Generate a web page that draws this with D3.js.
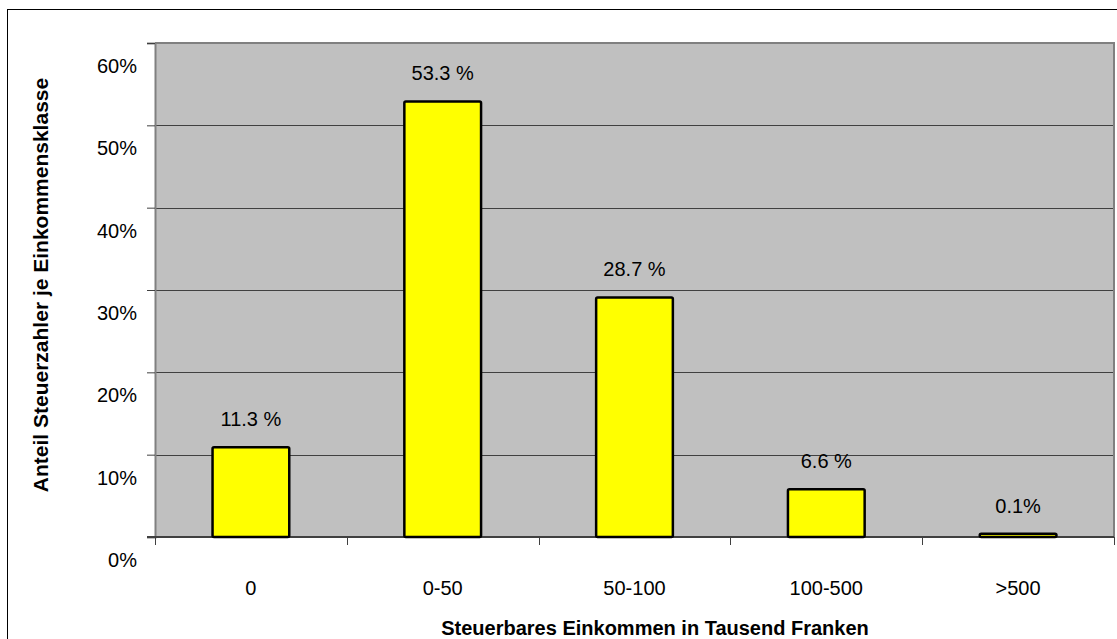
<!DOCTYPE html>
<html>
<head>
<meta charset="utf-8">
<script src="https://cdn.jsdelivr.net/npm/d3@7"></script>
<style>
  html, body { margin: 0; padding: 0; background: #fff; }
  svg { display: block; font-family: "Liberation Sans", Arial, sans-serif; }
</style>
</head>
<body>
<svg id="chart" width="1117" height="639"></svg>
<script>
const categories = ["0", "0-50", "50-100", "100-500", ">500"];
const values = [10.9, 52.9, 29.1, 5.8, 0.4];
const valueLabels = ["11.3 %", "53.3 %", "28.7 %", "6.6 %", "0.1%"];
const yTicks = [0, 10, 20, 30, 40, 50, 60];
const xTitle = "Steuerbares Einkommen in Tausend Franken";
const yTitle = "Anteil Steuerzahler je Einkommensklasse";

(function () {
const svg = d3.select("#chart");
const pL = 155, pR = 1114, pT = 43, pB = 537;

// outer chart frame
svg.append("rect").attr("x", 7.5).attr("y", 9.5).attr("width", 1200).attr("height", 700)
  .attr("fill", "#fff").attr("stroke", "#000").attr("stroke-width", 1);

const x = d3.scaleBand().domain(categories).range([pL, pR]).paddingInner(0.6).paddingOuter(0.3);
const y = d3.scaleLinear().domain([0, 60]).range([pB, pT]);

// plot area
svg.append("rect").attr("x", pL).attr("y", pT).attr("width", pR - pL).attr("height", pB - pT)
  .attr("fill", "#c0c0c0");

// gridlines
svg.append("g").selectAll("line").data(yTicks.filter(t => t > 0 && t < 60)).join("line")
  .attr("x1", pL).attr("x2", pR)
  .attr("y1", d => Math.round(y(d)) + 0.5).attr("y2", d => Math.round(y(d)) + 0.5)
  .attr("stroke", "#404040").attr("stroke-width", 1);

// plot border top & right
svg.append("path")
  .attr("d", `M${pL},${pT} H${pR} V${pB}`)
  .attr("fill", "none").attr("stroke", "#808080").attr("stroke-width", 2);

// y axis
const yAxis = d3.axisLeft(y).tickValues(yTicks).tickSize(8).tickFormat("");
const gy = svg.append("g").attr("transform", `translate(${pL},0)`).call(yAxis);
gy.select(".domain").attr("stroke", "#808080").attr("stroke-width", 2);
gy.selectAll(".tick line").attr("stroke", "#404040");

// y tick labels (offset below their gridlines, as in the reference)
svg.append("g").selectAll("text").data(yTicks).join("text")
  .attr("x", 137).attr("y", d => y(d) + 30)
  .attr("text-anchor", "end").attr("font-size", 20).attr("fill", "#000")
  .text(d => d + "%");

// x axis ticks at category boundaries
const bounds = categories.map(c => x(c) - x.step() * x.paddingInner() / 2).concat([pR]);
svg.append("g").selectAll("line").data(bounds).join("line")
  .attr("x1", d => Math.round(d) + 0.5).attr("x2", d => Math.round(d) + 0.5)
  .attr("y1", pB).attr("y2", pB + 8)
  .attr("stroke", "#404040").attr("stroke-width", 1);
svg.append("line").attr("x1", pL - 8).attr("x2", pR).attr("y1", pB).attr("y2", pB)
  .attr("stroke", "#404040").attr("stroke-width", 2);

// x labels
svg.append("g").selectAll("text").data(categories).join("text")
  .attr("x", d => x(d) + x.bandwidth() / 2).attr("y", 595)
  .attr("text-anchor", "middle").attr("font-size", 20).attr("fill", "#000")
  .text(d => d);

// bars
svg.append("g").selectAll("rect").data(values).join("rect")
  .attr("x", (d, i) => x(categories[i]))
  .attr("y", d => y(d))
  .attr("width", x.bandwidth())
  .attr("height", d => y(0) - y(d))
  .attr("rx", 1.5)
  .attr("fill", "#ffff00").attr("stroke", "#000").attr("stroke-width", 2.5);

// value labels
svg.append("g").selectAll("text").data(values).join("text")
  .attr("x", (d, i) => x(categories[i]) + x.bandwidth() / 2)
  .attr("y", d => y(d) - 21)
  .attr("text-anchor", "middle").attr("font-size", 20).attr("fill", "#000")
  .text((d, i) => valueLabels[i]);

// axis titles
svg.append("text").attr("x", 655).attr("y", 635)
  .attr("text-anchor", "middle").attr("font-size", 20).attr("font-weight", "bold")
  .text(xTitle);
svg.append("text").attr("transform", "translate(48,285) rotate(-90)")
  .attr("text-anchor", "middle").attr("font-size", 21).attr("font-weight", "bold")
  .text(yTitle);
})();
</script>
</body>
</html>
